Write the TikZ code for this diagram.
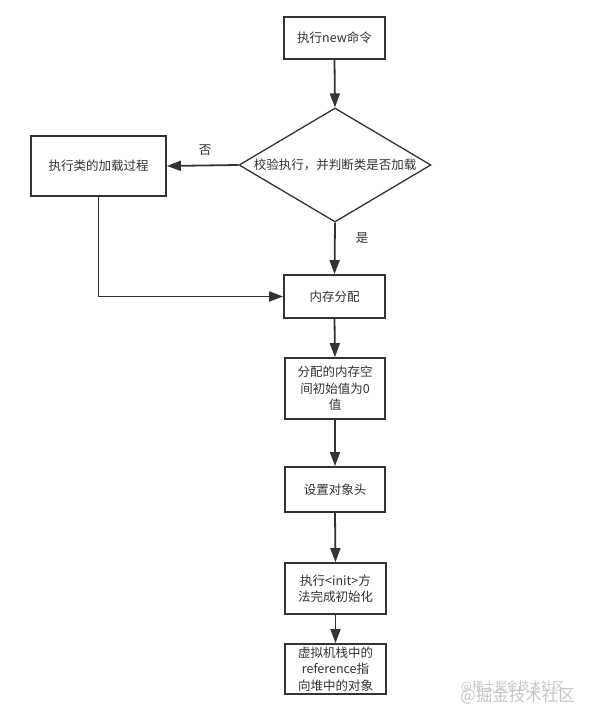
\documentclass[tikz,border=0pt]{standalone}
\usepackage{fontspec}
\newfontfamily\cjk{Noto Sans CJK SC}
\usetikzlibrary{shapes.geometric,arrows.meta}
\definecolor{ink}{HTML}{333333}
\definecolor{wm}{HTML}{C4C4C4}
\tikzset{
  stepbox/.style={draw=ink, line width=1.8pt, fill=white, inner sep=0pt, align=center,
    font=\cjk\fontsize{12.5}{16.5}\selectfont, text=ink},
  decbox/.style={draw=ink, line width=1.3pt, shape=diamond, inner sep=0pt,
    minimum width=192pt, minimum height=114pt},
  txt/.style={font=\cjk\fontsize{12.5}{16.5}\selectfont, text=ink, inner sep=0pt},
  flow/.style={draw=ink, line width=1.8pt, -{Triangle[length=14pt,width=10pt]}},
  wmark/.style={text=wm, inner sep=0pt, anchor=west},
}
\begin{document}
\begin{tikzpicture}[x=1pt,y=-1pt]
\useasboundingbox (0,0) rectangle (590,711);
\node[stepbox, minimum width=101pt, minimum height=42pt] (n1) at (334.5,38) {执行new命令};
\node[decbox] (d) at (335,165) {};
\node[txt] (dt) at (d.center) {校验执行，并判断类是否加载};
\node[stepbox, minimum width=135pt, minimum height=60pt] (L) at (98.5,166) {执行类的加载过程};
\node[stepbox, minimum width=101pt, minimum height=43pt] (mem) at (334.5,296.5) {内存分配};
\node[stepbox, minimum width=100pt, minimum height=61pt] (zero) at (335,388.5) {分配的内存空\\间初始值为0\\值};
\node[stepbox, minimum width=100pt, minimum height=45pt] (head) at (335,489.5) {设置对象头};
\node[stepbox, minimum width=101pt, minimum height=51pt] (initm) at (335.5,588.5) {执行<init>方\\法完成初始化};
\node[stepbox, minimum width=101pt, minimum height=50pt] (ref) at (335.5,669) {虚拟机栈中的\\reference指\\向堆中的对象};
\node[txt] (no) at (205,150) {否};
\node[txt] (yes) at (362,238) {是};
\node[wmark, font=\cjk\fontsize{11.5}{12}\selectfont] (wm1) at (461,687) {@稀土掘金技术社区};
\node[wmark, font=\cjk\fontsize{16.5}{18}\selectfont] (wm2) at (460,696) {@掘金技术社区};
\draw[flow] (n1.south) -- (d.north);
\draw[flow] (d.west) -- (L.east);
\draw[flow] (d.south) -- (mem.north);
\draw[flow] (L.south) -- (L.south |- mem.west) -- (mem.west);
\draw[flow] (mem.south) -- (zero.north);
\draw[flow] (zero.south) -- (head.north);
\draw[flow] (head.south) -- (initm.north);
\draw[flow] (initm.south) -- (ref.north);
\end{tikzpicture}
\end{document}
